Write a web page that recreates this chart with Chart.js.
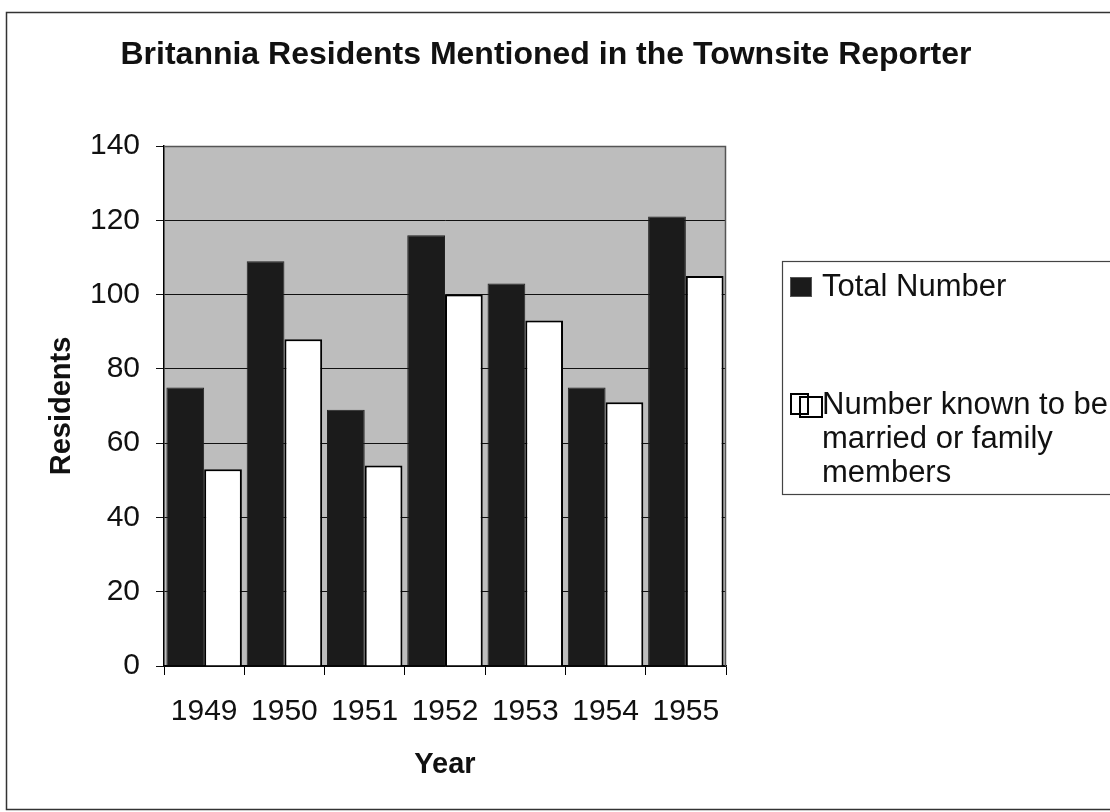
<!DOCTYPE html>
<html>
<head>
<meta charset="utf-8">
<script src="https://cdn.jsdelivr.net/npm/chart.js@4/dist/chart.umd.min.js"></script>
<style>
  html, body { margin: 0; padding: 0; background: #fff; }
  #wrap { width: 1110px; height: 812px; position: relative; }
</style>
</head>
<body>
<div id="wrap"><canvas id="c" width="1110" height="812"></canvas></div>
<script>
const categories = ["1949", "1950", "1951", "1952", "1953", "1954", "1955"];
const totalNumber = [75, 109, 69, 116, 103, 75, 121];
const marriedOrFamily = [53, 88, 54, 100, 93, 71, 105];
const seriesNames = ["Total Number", "Number known to be married or family members"];
const legendLines = [["Total Number"], ["Number known to be", "married or family", "members"]];
const chartTitle = "Britannia Residents Mentioned in the Townsite Reporter";
const yTitle = "Residents";
const xTitle = "Year";

const FONT = "'Liberation Sans', Arial, sans-serif";

const decor = {
  id: 'decor',
  beforeDraw(chart) {
    const ctx = chart.ctx;
    const a = chart.chartArea;
    ctx.save();
    ctx.fillStyle = '#fff';
    ctx.fillRect(0, 0, chart.width, chart.height);
    ctx.fillStyle = '#bdbdbd';
    ctx.fillRect(a.left, a.top, a.right - a.left, a.bottom - a.top);
    ctx.restore();
  },
  afterDraw(chart) {
    const ctx = chart.ctx;
    const a = chart.chartArea;
    ctx.save();
    // chart title
    ctx.font = 'bold 32px ' + FONT;
    ctx.fillStyle = '#111';
    ctx.textAlign = 'center';
    ctx.textBaseline = 'alphabetic';
    ctx.fillText(chartTitle, 546, 64);
    // plot frame top/right
    ctx.strokeStyle = '#555';
    ctx.lineWidth = 1.5;
    ctx.beginPath();
    ctx.moveTo(a.left, a.top + 0.5);
    ctx.lineTo(a.right - 0.5, a.top + 0.5);
    ctx.lineTo(a.right - 0.5, a.bottom);
    ctx.stroke();
    // outer frame
    ctx.strokeStyle = '#333';
    ctx.lineWidth = 1.5;
    ctx.strokeRect(6.5, 12.5, 1110, 797);
    // legend box
    ctx.strokeStyle = '#444';
    ctx.lineWidth = 1.2;
    ctx.strokeRect(782.5, 261.5, 340, 233);
    // legend items
    const ds = chart.data.datasets;
    ctx.font = '31px ' + FONT;
    ctx.textBaseline = 'alphabetic';
    ctx.textAlign = 'left';
    // item 1
    ctx.fillStyle = ds[0].backgroundColor;
    ctx.fillRect(790, 277, 22, 20);
    ctx.strokeStyle = '#555';
    ctx.lineWidth = 1;
    ctx.strokeRect(790.5, 277.5, 21, 19);
    ctx.fillStyle = '#111';
    legendLines[0].forEach((t, i) => ctx.fillText(t, 822, 296 + i * 34));
    // item 2
    ctx.fillStyle = ds[1].backgroundColor;
    ctx.fillRect(790, 394, 30, 22);
    ctx.strokeStyle = '#000';
    ctx.lineWidth = 2;
    ctx.strokeRect(791, 394, 17, 20);
    ctx.strokeRect(800, 397, 22, 20);
    ctx.fillStyle = '#111';
    legendLines[1].forEach((t, i) => ctx.fillText(t, 822, 414 + i * 34));
    ctx.restore();
  }
};

new Chart(document.getElementById('c'), {
  type: 'bar',
  data: {
    labels: categories,
    datasets: [
      { label: seriesNames[0], data: totalNumber, backgroundColor: '#1b1b1b', borderColor: '#222', borderWidth: 1 },
      { label: seriesNames[1], data: marriedOrFamily, backgroundColor: '#ffffff', borderColor: '#000', borderWidth: 2 }
    ]
  },
  plugins: [decor],
  options: {
    responsive: false,
    animation: false,
    layout: { padding: { left: 0, right: 384, top: 146, bottom: 0 } },
    datasets: { bar: { categoryPercentage: 0.94, barPercentage: 1.0 } },
    plugins: {
      legend: { display: false },
      tooltip: { enabled: false },
      title: { display: false }
    },
    scales: {
      x: {
        offset: true,
        grid: { display: true, drawOnChartArea: false, drawTicks: true, tickLength: 9, color: '#000', lineWidth: 1, offset: true },
        border: { display: true, color: '#000', width: 1.5 },
        ticks: { color: '#111', font: { family: FONT, size: 30 }, padding: 19, maxRotation: 0 },
        title: { display: true, text: xTitle, color: '#111', font: { family: FONT, size: 29, weight: 'bold' }, padding: { top: 0, bottom: 30 } },
        afterFit(scale) { scale.height = 146; }
      },
      y: {
        min: 0, max: 140,
        ticks: { stepSize: 20, color: '#111', font: { family: FONT, size: 30 }, padding: 16 },
        grid: { color: '#111', lineWidth: 1, drawTicks: true, tickLength: 8 },
        border: { display: true, color: '#000', width: 1.5 },
        title: { display: true, text: yTitle, color: '#111', font: { family: FONT, size: 29, weight: 'bold' }, padding: { top: 45, bottom: 0 } },
        afterFit(scale) { scale.width = 164; }
      }
    }
  }
});
</script>
</body>
</html>
